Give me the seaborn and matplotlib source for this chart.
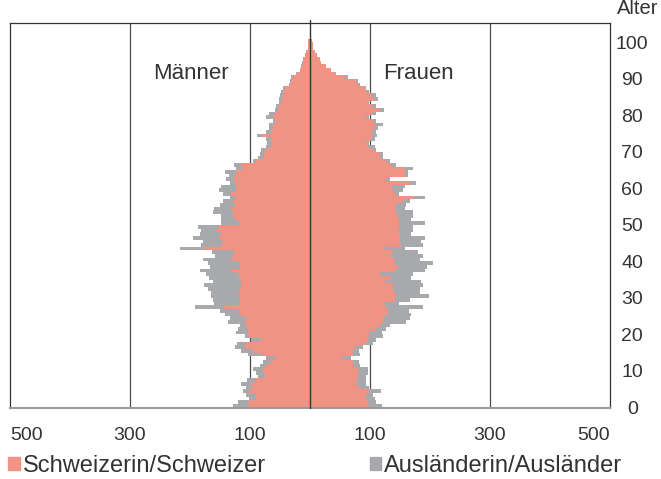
import numpy as np
import pandas as pd
import matplotlib
matplotlib.use("Agg")
import matplotlib.pyplot as plt
import seaborn as sns
from matplotlib.patches import Patch

# Alter 0..100
ages = np.arange(0, 101)

# Männer: Schweizer und Ausländer (pro Altersjahr)
men_swiss = [104, 101, 90, 90, 101, 95, 98, 90, 73, 76,
             78, 73, 65, 59, 80, 95, 109, 106, 81, 101,
             104, 104, 106, 109, 106, 117, 118, 145, 117, 117,
             117, 120, 117, 115, 115, 117, 120, 134, 117, 118,
             134, 128, 126, 176, 148, 145, 151, 148, 156, 152,
             117, 123, 129, 129, 131, 125, 129, 123, 131, 123,
             123, 123, 129, 123, 123, 112, 115, 90, 76, 76,
             73, 65, 65, 65, 80, 65, 62, 62, 56, 62,
             59, 53, 52, 48, 46, 45, 44, 41, 34, 31,
             30, 22, 16, 14, 12, 10, 8, 6, 4, 3, 3]
men_foreign = [25, 19, 11, 16, 11, 11, 17, 15, 14, 14,
               17, 11, 13, 14, 24, 20, 16, 16, 17, 8,
               19, 16, 11, 28, 28, 25, 32, 47, 43, 45,
               48, 45, 53, 61, 47, 51, 53, 50, 50, 52,
               44, 31, 37, 40, 33, 33, 44, 36, 25, 34,
               31, 25, 19, 33, 29, 25, 16, 11, 14, 28,
               25, 11, 11, 12, 19, 11, 12, 5, 11, 8,
               8, 8, 6, 8, 9, 8, 7, 7, 6, 12,
               9, 6, 4, 4, 5, 5, 4, 4, 1, 2,
               1, 1, 0, 1, 1, 1, 1, 0, 0, 0, 0]

# Frauen: Schweizerinnen und Ausländerinnen
women_swiss = [99, 96, 94, 93, 99, 83, 77, 78, 80, 80,
               80, 71, 71, 54, 71, 71, 77, 91, 96, 99,
               99, 110, 116, 121, 121, 130, 130, 127, 121, 141,
               144, 141, 138, 138, 125, 135, 116, 141, 146, 140,
               141, 135, 138, 124, 152, 150, 150, 149, 149, 148,
               149, 149, 147, 144, 141, 143, 155, 173, 141, 138,
               135, 166, 127, 158, 158, 158, 135, 127, 116, 116,
               105, 96, 94, 102, 105, 104, 107, 110, 105, 94,
               104, 116, 104, 96, 106, 102, 94, 91, 80, 77,
               58, 42, 35, 27, 19, 17, 11, 8, 5, 5, 3]
women_foreign = [21, 14, 14, 12, 20, 16, 17, 15, 14, 16,
                 16, 12, 11, 15, 12, 11, 11, 14, 14, 22,
                 21, 17, 17, 39, 45, 39, 35, 61, 28, 25,
                 55, 42, 45, 50, 60, 33, 55, 50, 49, 65,
                 42, 53, 42, 34, 36, 35, 41, 20, 22, 23,
                 42, 20, 25, 27, 17, 17, 11, 18, 8, 17,
                 23, 11, 7, 5, 5, 13, 9, 6, 5, 5,
                 5, 12, 5, 6, 7, 6, 6, 11, 5, 5,
                 6, 8, 6, 3, 7, 8, 4, 3, 3, 3,
                 5, 1, 0, 0, 0, 0, 0, 0, 0, 0, 0]

x_ticks = [-500, -300, -100, 100, 300, 500]
x_labels = ["500", "300", "100", "100", "300", "500"]
y_ticks = list(range(0, 101, 10))

pink = "#F09385"
grey = "#A8A9AD"
txt = "#333333"

df = pd.DataFrame({
    "alter": ages + 0.5,
    "m_ch": -np.array(men_swiss),
    "m_tot": -(np.array(men_swiss) + np.array(men_foreign)),
    "w_ch": np.array(women_swiss),
    "w_tot": np.array(women_swiss) + np.array(women_foreign),
})

sns.set_style("white")
plt.rcParams["font.family"] = ["Liberation Sans", "DejaVu Sans"]

fig = plt.figure(figsize=(6.61, 4.79), dpi=100)
ax = fig.add_axes([10 / 661, 71.5 / 479, 600 / 661, 384.5 / 479])

# Gitterlinien hinter den Balken
for gx in [-300, -100, 100, 300]:
    ax.axvline(gx, color="#4a4a4a", lw=0.9, zorder=0)

common = dict(y="alter", orient="y", native_scale=True, width=1,
              linewidth=0, saturation=1, errorbar=None, ax=ax)
sns.barplot(data=df, x="m_tot", color=grey, **common)
sns.barplot(data=df, x="w_tot", color=grey, **common)
sns.barplot(data=df, x="m_ch", color=pink, **common)
sns.barplot(data=df, x="w_ch", color=pink, **common)

ax.axvline(0, ymin=0, ymax=1.008, color=txt, lw=1.0, zorder=5, clip_on=False)

ax.set_xlim(-500, 500)
ax.set_ylim(0, 105.3)
ax.set_xlabel("")
ax.set_ylabel("")

for side in ["top", "left", "right"]:
    ax.spines[side].set_color(txt)
    ax.spines[side].set_linewidth(0.9)
ax.spines["bottom"].set_color("#999999")
ax.spines["bottom"].set_linewidth(1.4)

ax.set_xticks(x_ticks)
ax.set_xticklabels(x_labels)
ax.tick_params(axis="x", length=0, pad=14, labelsize=14, colors=txt)
xl = ax.get_xticklabels()
xl[0].set_ha("left")
xl[-1].set_ha("right")

ax.yaxis.tick_right()
ax.set_yticks(y_ticks)
ax.set_yticklabels([str(t) for t in y_ticks])
ax.tick_params(axis="y", length=0, pad=16, labelsize=14, colors=txt)
for t in ax.get_yticklabels():
    t.set_ha("center")

fig.text(617 / 661, 1 - 9 / 479, "Alter", ha="left", va="center",
         fontsize=14.5, color=txt)
ax.text(-198, 91.6, "Männer", ha="center", va="center", fontsize=16, color=txt)
ax.text(180, 91.6, "Frauen", ha="center", va="center", fontsize=16, color=txt)

handles = [Patch(color=pink, label="Schweizerin/Schweizer"),
           Patch(color=grey, label="Ausländerin/Ausländer")]
fig.legend(handles=handles, loc="center left", bbox_to_anchor=(8 / 661, 13 / 479),
           ncol=2, frameon=False, fontsize=17, borderpad=0, borderaxespad=0,
           handlelength=0.5, handleheight=0.5, handletextpad=0.12,
           columnspacing=4.4, labelcolor=txt)

fig.savefig("out.png", dpi=100)
